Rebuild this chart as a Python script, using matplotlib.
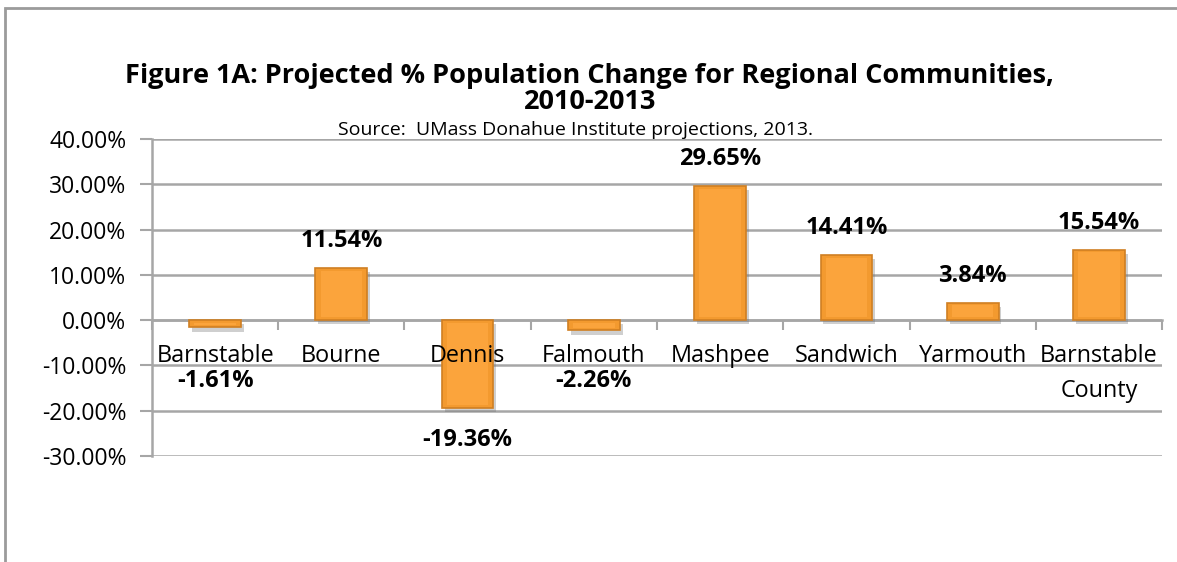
import numpy as np
import matplotlib.pyplot as plt
import matplotlib.patheffects as pe
from matplotlib.patches import Rectangle

# data
communities = ['Barnstable', 'Bourne', 'Dennis', 'Falmouth', 'Mashpee',
               'Sandwich', 'Yarmouth', 'Barnstable\nCounty']
pct_change = [-1.61, 11.54, -19.36, -2.26, 29.65, 14.41, 3.84, 15.54]
yticks = [-30, -20, -10, 0, 10, 20, 30, 40]

plt.rcParams['font.family'] = ['Open Sans', 'DejaVu Sans']

fig = plt.figure(figsize=(11.77, 5.62), dpi=100)
ax = fig.add_axes([0.1291, 0.1886, 0.8582, 0.5641])

# outer chart frame (only top and left visible in the crop)
fig.patches.append(Rectangle((5 / 1177, -0.1), 1.2, 1 - 8 / 562 + 0.1,
                             transform=fig.transFigure, fill=False,
                             edgecolor='#9b9b9b', linewidth=2))

x = np.arange(len(communities))
vals = np.array(pct_change)
shadow = [pe.SimplePatchShadow(offset=(2, -3), shadow_rgbFace='#777777', alpha=0.35), pe.Normal()]
ax.bar(x, vals, width=0.41, color='#f39a2f', edgecolor='#cf7f22', linewidth=1.2,
       path_effects=shadow, zorder=3)
# lighter inner face to mimic the bevel
inner = np.sign(vals) * np.maximum(np.abs(vals) - 1.2, 0) + np.sign(vals) * 0.6
ax.bar(x, inner - np.sign(vals) * 0.6, bottom=np.sign(vals) * 0.6, width=0.33,
       color='#fba43c', linewidth=0, zorder=4)

for xi, v in zip(x, vals):
    if v >= 0:
        ly = v + 5.96
    else:
        ly = min(v, -6.3) - 7.1
    ax.text(xi, ly, f'{v:.2f}%', ha='center', va='center', fontsize=17,
            fontweight='bold', color='black', zorder=5)

# category labels sit on top of the bars, just under the zero line
for xi, name in zip(x, communities):
    ax.annotate(name, xy=(xi, 0), xytext=(0, -17), textcoords='offset points',
                ha='center', va='top', fontsize=16.8, linespacing=1.62,
                color='black', zorder=6)

ax.set_xlim(-0.5, len(communities) - 0.5)
ax.set_ylim(-30, 40)
ax.set_yticks(yticks)
ax.set_yticklabels([f'{t:.2f}%' for t in yticks])
ax.yaxis.grid(True, color='#a6a6a6', linewidth=1.8, zorder=0)
ax.set_axisbelow(True)

ax.set_xticks(np.arange(len(communities) + 1) - 0.5)
ax.set_xticklabels([])
ax.tick_params(axis='x', length=7, width=1.5, color='#a6a6a6', direction='out')
ax.tick_params(axis='y', length=9, width=1.5, color='#a6a6a6', pad=9.5, labelsize=16.5)

ax.spines['bottom'].set_position(('data', 0))
ax.spines['bottom'].set_color('#a6a6a6')
ax.spines['bottom'].set_linewidth(1.8)
ax.spines['left'].set_color('#a6a6a6')
ax.spines['left'].set_linewidth(1.8)
ax.spines['top'].set_visible(False)
ax.spines['right'].set_visible(False)

fig.text(0.501, 0.842, 'Figure 1A: Projected % Population Change for Regional Communities,\n2010-2013',
         ha='center', va='center', fontsize=19.5, fontweight='bold', linespacing=0.98)
fig.text(0.489, 0.768, 'Source:  UMass Donahue Institute projections, 2013.',
         ha='center', va='center', fontsize=14)

fig.savefig('out.png', dpi=100)
